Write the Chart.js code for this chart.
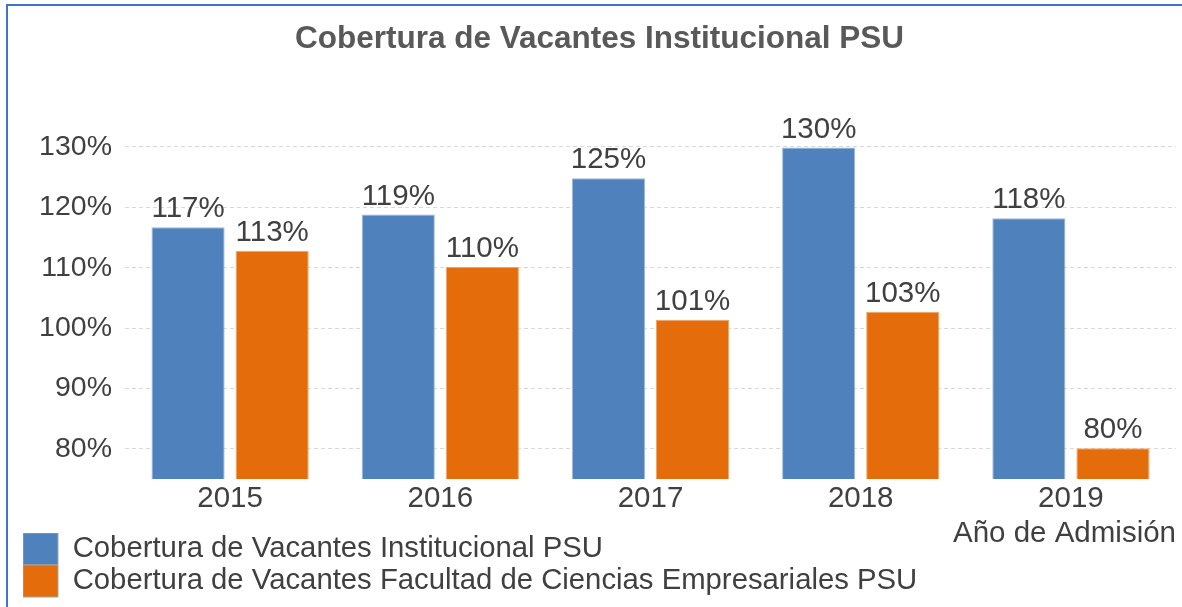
<!DOCTYPE html>
<html>
<head>
<meta charset="utf-8">
<script src="https://cdn.jsdelivr.net/npm/chart.js@4/dist/chart.umd.min.js"></script>
<style>
  html, body { margin: 0; padding: 0; background: #ffffff; overflow: hidden; }
  #wrap { position: relative; width: 1182px; height: 607px; }
  #frame { position: absolute; left: 6px; top: 4px; width: 1200px; height: 640px;
           border-left: 2px solid #4472C4; border-top: 2px solid #4472C4; pointer-events: none; }
  canvas { position: absolute; left: 0; top: 0; }
</style>
</head>
<body>
<div id="wrap">
  <canvas id="c" width="1182" height="607"></canvas>
  <div id="frame"></div>
</div>
<script>
const chartTitle = 'Cobertura de Vacantes Institucional PSU';
const xAxisTitle = 'Año de Admisión';
const categories = ['2015', '2016', '2017', '2018', '2019'];
const seriesNames = [
  'Cobertura de Vacantes Institucional PSU',
  'Cobertura de Vacantes Facultad de Ciencias Empresariales PSU'
];
const institucional = [116.7, 118.8, 124.8, 129.9, 118.2];
const facultad = [112.8, 110.1, 101.4, 102.7, 80.1];
const yTickValues = [80, 90, 100, 110, 120, 130];

const FONT = '"Liberation Sans", Arial, sans-serif';
const TEXT = '#404040';

const valueLabels = {
  id: 'valueLabels',
  afterDatasetsDraw(chart) {
    const ctx = chart.ctx;
    ctx.save();
    ctx.font = '29.5px ' + FONT;
    ctx.fillStyle = TEXT;
    ctx.textAlign = 'center';
    ctx.textBaseline = 'alphabetic';
    chart.data.datasets.forEach((ds, i) => {
      chart.getDatasetMeta(i).data.forEach((bar, j) => {
        ctx.fillText(Math.round(ds.data[j]) + '%', bar.x, bar.y - 10);
      });
    });
    ctx.restore();
  }
};

new Chart(document.getElementById('c'), {
  type: 'bar',
  data: {
    labels: categories,
    datasets: [
      { label: seriesNames[0], data: institucional, backgroundColor: '#4F81BD',
        borderColor: '#9fb9dc', borderWidth: 1 },
      { label: seriesNames[1], data: facultad, backgroundColor: '#E46C0A',
        borderColor: '#f2a468', borderWidth: 1 }
    ]
  },
  options: {
    responsive: false,
    animation: false,
    layout: { padding: { left: 23, right: 6, top: 0, bottom: 0 } },
    datasets: { bar: { categoryPercentage: 0.8, barPercentage: 0.87 } },
    plugins: {
      title: {
        display: true,
        text: chartTitle,
        color: '#595959',
        font: { family: FONT, size: 31.5, weight: 'bold' },
        padding: { top: 20, bottom: 59 }
      },
      legend: {
        display: true,
        position: 'bottom',
        align: 'start',
        labels: {
          color: TEXT,
          font: { family: FONT, size: 29.3 },
          boxWidth: 35,
          boxHeight: 32,
          padding: 0,
          generateLabels(chart) {
            return Chart.defaults.plugins.legend.labels.generateLabels(chart)
              .map(l => Object.assign(l, { strokeStyle: '#a6a6a6', lineWidth: 1 }));
          }
        }
      },
      tooltip: { enabled: false }
    },
    scales: {
      x: {
        grid: { display: false, drawTicks: false },
        border: { display: false },
        ticks: { color: TEXT, font: { family: FONT, size: 29.5 }, padding: 2 },
        title: {
          display: true,
          text: xAxisTitle,
          align: 'end',
          color: TEXT,
          font: { family: FONT, size: 29.5 },
          padding: { top: -2.3, bottom: -18.5 }
        }
      },
      y: {
        min: 75,
        max: 135,
        afterBuildTicks(scale) {
          scale.ticks = yTickValues.map(v => ({ value: v }));
        },
        afterFit(scale) { scale.width = 102; },
        grid: { color: '#d9d9d9', lineWidth: 1, drawTicks: false },
        border: { display: false, dash: [4, 3] },
        ticks: {
          color: TEXT,
          font: { family: FONT, size: 28.5 },
          padding: 13,
          callback: v => v + '%'
        }
      }
    }
  },
  plugins: [valueLabels]
});
</script>
</body>
</html>
